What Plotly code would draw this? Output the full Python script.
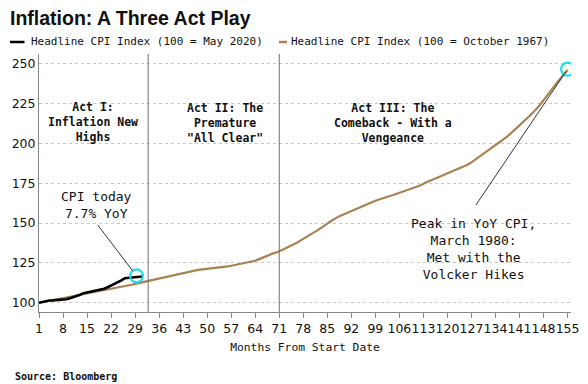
import plotly.graph_objects as go

# ---------------- data ----------------
months_1967 = list(range(1, 156))
cpi_1967 = [
    100.0, 100.4, 100.8, 101.2, 101.6, 102.0, 102.5, 102.9, 103.3, 103.7, 104.1, 104.5,
    104.9, 105.3, 105.7, 106.1, 106.5, 106.9, 107.4, 107.8, 108.2, 108.6, 109.1, 109.5,
    109.9, 110.4, 110.8, 111.3, 111.8, 112.3, 112.8, 113.3, 113.7, 114.1, 114.5, 114.9,
    115.4, 115.9, 116.4, 116.9, 117.5, 118.2, 118.8, 119.3, 119.8, 120.2, 120.5, 120.8,
    121.0, 121.3, 121.5, 121.7, 122.0, 122.2, 122.5, 122.8, 123.2, 123.6, 124.0, 124.3,
    124.7, 125.2, 125.7, 126.3, 127.2, 128.2, 129.2, 130.0, 130.8, 131.4, 132.2, 133.3,
    134.3, 135.2, 136.1, 137.4, 138.8, 140.2, 141.7, 142.9, 144.0, 145.2, 146.5, 148.0,
    149.6, 151.1, 152.5, 153.7, 154.7, 155.6, 156.4, 157.2, 158.0, 158.9, 159.8, 160.8,
    161.9, 163.0, 164.0, 164.8, 165.5, 166.2, 166.8, 167.4, 168.1, 168.7, 169.4, 170.2,
    171.0, 171.8, 172.7, 173.6, 174.7, 175.7, 176.6, 177.4, 178.3, 179.2, 180.1, 181.0,
    181.9, 182.7, 183.6, 184.5, 185.6, 186.7, 188.1, 189.6, 191.2, 192.8, 194.4, 195.9,
    197.3, 198.8, 200.2, 201.7, 203.5, 205.3, 207.2, 209.1, 211.1, 213.1, 215.2, 217.3,
    219.4, 221.5, 224.2, 227.0, 229.9, 232.9, 235.6, 238.2, 240.8, 243.4, 246.0,
]
months_2020 = list(range(1, 32))
cpi_2020 = [
    100.0, 100.5, 101.1, 101.4, 101.5, 101.6, 101.6, 101.8, 102.2, 102.8, 103.4, 104.2,
    105.0, 106.0, 106.5, 106.8, 107.1, 107.9, 108.4, 108.8, 109.7, 110.7, 112.0, 112.8,
    114.0, 115.4, 115.6, 115.6, 116.0, 116.3, 116.5,
]
series_names = ["Headline CPI Index (100 = May 2020)", "Headline CPI Index (100 = October 1967)"]
act_boundaries = [32.8, 71]
highlight_month = [29.4, 155]
highlight_value = [116.9, 246.5]
x_ticks = list(range(1, 156, 7))
y_ticks = [100, 125, 150, 175, 200, 225, 250]

# ---------------- layout helpers ----------------
W, H = 588, 384
L, R, T, B = 39, 17, 54, 72
PW, PH = W - L - R, H - T - B


def px(x):
    return (x - L) / PW


def py(y):
    return (H - B - y) / PH


BROWN = "#a98253"
CYAN = "#22dde8"
MONO = "DejaVu Sans Mono"
SANS = "DejaVu Sans"

fig = go.Figure()
fig.add_trace(go.Scatter(x=months_1967, y=cpi_1967, mode="lines", name=series_names[1],
                         line=dict(color=BROWN, width=2.2), showlegend=False))
fig.add_trace(go.Scatter(x=months_2020, y=cpi_2020, mode="lines", name=series_names[0],
                         line=dict(color="#000000", width=2.6), showlegend=False))
fig.add_trace(go.Scatter(x=highlight_month, y=highlight_value, mode="markers",
                         marker=dict(symbol="circle-open", size=13, color=CYAN,
                                     line=dict(width=2.2, color=CYAN)),
                         showlegend=False, hoverinfo="skip"))

shapes = []
for b in act_boundaries:
    shapes.append(dict(type="line", xref="x", yref="paper", x0=b, x1=b, y0=0, y1=1,
                       line=dict(color="#707070", width=1)))
# legend swatches
shapes.append(dict(type="line", xref="paper", yref="paper", x0=px(10), x1=px(24.5),
                   y0=py(42), y1=py(42), line=dict(color="#000000", width=2.5)))
shapes.append(dict(type="line", xref="paper", yref="paper", x0=px(279), x1=px(287),
                   y0=py(42), y1=py(42), line=dict(color=BROWN, width=2.5)))

annotations = [
    dict(xref="paper", yref="paper", x=px(29), y=py(42), xanchor="left", yanchor="middle",
         text=series_names[0], showarrow=False, font=dict(family=MONO, size=11, color="#111")),
    dict(xref="paper", yref="paper", x=px(288.5), y=py(42), xanchor="left", yanchor="middle",
         text=series_names[1], showarrow=False, font=dict(family=MONO, size=11, color="#111")),
    dict(xref="paper", yref="paper", x=px(93), y=py(121.7), xanchor="center", yanchor="middle",
         text="<b>Act I:<br>Inflation New<br>Highs</b>", showarrow=False,
         font=dict(family=MONO, size=11.5, color="#111")),
    dict(xref="paper", yref="paper", x=px(225), y=py(122.9), xanchor="center", yanchor="middle",
         text="<b>Act II: The<br>Premature<br>\"All Clear\"</b>", showarrow=False,
         font=dict(family=MONO, size=11.5, color="#111")),
    dict(xref="paper", yref="paper", x=px(392.5), y=py(123.3), xanchor="center", yanchor="middle",
         text="<b>Act III: The<br>Comeback - With a<br>Vengeance</b>", showarrow=False,
         font=dict(family=MONO, size=11.5, color="#111")),
    dict(xref="paper", yref="paper", x=px(96.7), y=py(204.7), xanchor="center", yanchor="middle",
         text="CPI today<br>7.7% YoY", showarrow=False,
         font=dict(family=MONO, size=13, color="#111")),
    dict(xref="paper", yref="paper", x=px(473.3), y=py(248.8), xanchor="center", yanchor="middle",
         text="Peak in YoY CPI,<br>March 1980:<br>Met with the<br>Volcker Hikes", showarrow=False,
         font=dict(family=MONO, size=13, color="#111")),
    dict(xref="x", yref="y", x=highlight_month[0], y=highlight_value[0], text="",
         showarrow=True, arrowhead=0, arrowwidth=1, arrowcolor="#333333",
         ax=-40, ay=-52.4, standoff=6.5),
    dict(xref="x", yref="y", x=highlight_month[1], y=highlight_value[1], text="",
         showarrow=True, arrowhead=0, arrowwidth=1, arrowcolor="#333333",
         ax=-92.7, ay=137.4, standoff=3),
    dict(xref="paper", yref="paper", x=px(13), y=py(376.5), xanchor="left", yanchor="middle",
         text="<b>Source: Bloomberg</b>", showarrow=False,
         font=dict(family=MONO, size=10, color="#111")),
]

fig.update_layout(
    width=W, height=H,
    margin=dict(l=L, r=R, t=T, b=B, autoexpand=False),
    paper_bgcolor="white", plot_bgcolor="white",
    showlegend=False,
    title=dict(text="<b>Inflation: A Three Act Play</b>", xref="container", yref="container",
               x=10 / W, y=1 - 18.5 / H, xanchor="left", yanchor="middle",
               font=dict(family="Liberation Sans", size=19.5, color="#111")),
    shapes=shapes,
    annotations=annotations,
    xaxis=dict(range=[1, 156], tickvals=x_ticks, ticks="outside", ticklen=5,
               tickcolor="#888888", showline=True, linecolor="#888888", linewidth=1,
               showgrid=False, zeroline=False, tickangle=0, automargin=False,
               tickfont=dict(family=SANS, size=12.5, color="#111"),
               title=dict(text="Months From Start Date", standoff=8,
                          font=dict(family=MONO, size=11.3, color="#111"))),
    yaxis=dict(range=[94.2, 256], tickvals=y_ticks, ticks="", showline=True,
               linecolor="#888888", linewidth=1, showgrid=True, gridcolor="#c8c8c8",
               griddash="dot", gridwidth=1, zeroline=False, automargin=False,
               tickfont=dict(family=SANS, size=12.5, color="#111")),
)

fig.write_html("out.html", config={"displayModeBar": False},
               post_script="document.body.style.margin='0';")
